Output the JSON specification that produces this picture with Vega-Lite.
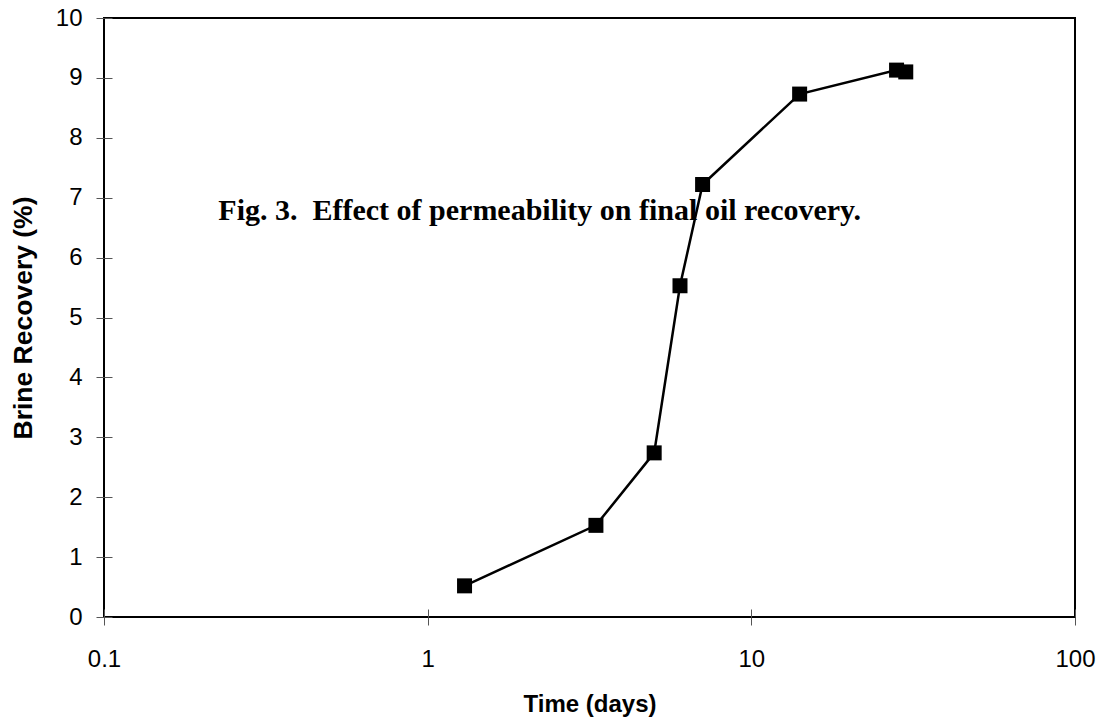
{
  "$schema": "https://vega.github.io/schema/vega-lite/v6.json",
  "autosize": {"type": "none"},
  "padding": {"left": 104, "top": 18, "right": 34, "bottom": 110},
  "width": 971,
  "height": 599,
  "background": "white",
  "config": {"view": {"stroke": "black", "strokeWidth": 2}, "axis": {"grid": false}},
  "datasets": {
    "recovery": [
      {"days": 1.30, "recovery": 0.52},
      {"days": 3.31, "recovery": 1.53},
      {"days": 5.01, "recovery": 2.74},
      {"days": 6.02, "recovery": 5.53},
      {"days": 7.07, "recovery": 7.22},
      {"days": 14.1, "recovery": 8.73},
      {"days": 28.1, "recovery": 9.13},
      {"days": 30.0, "recovery": 9.10}
    ],
    "note": [
      {"days": 0.2255, "recovery": 6.63, "label": "Fig. 3.\u00a0 Effect of permeability on final oil recovery."}
    ]
  },
  "layer": [
    {
      "data": {"name": "note"},
      "mark": {"type": "text", "font": "Liberation Serif", "fontWeight": "bold", "fontSize": 30, "align": "left", "baseline": "alphabetic", "color": "black"},
      "encoding": {
        "x": {"field": "days", "type": "quantitative", "scale": {"type": "log", "domain": [0.1, 100]},
          "axis": {"orient": "bottom", "values": [0.1, 1, 10, 100], "labels": false, "domain": false, "title": null, "tickSize": -8, "tickColor": "#555", "tickWidth": 1, "grid": false}},
        "y": {"field": "recovery", "type": "quantitative", "scale": {"domain": [0, 10]},
          "axis": {"orient": "left", "values": [0,1,2,3,4,5,6,7,8,9,10], "labels": false, "domain": false, "title": null, "tickSize": -8, "tickColor": "#555", "tickWidth": 1, "grid": false}},
        "text": {"field": "label"}
      }
    },
    {
      "data": {"name": "recovery"},
      "mark": {"type": "line", "color": "black", "strokeWidth": 2.5,
        "point": {"shape": "square", "size": 225, "filled": true, "color": "black", "opacity": 1}},
      "encoding": {
        "x": {"field": "days", "type": "quantitative", "scale": {"type": "log", "domain": [0.1, 100]},
          "axis": {"orient": "bottom", "values": [0.1, 1, 10, 100], "format": "~g", "labelFont": "Liberation Sans", "labelFontSize": 24, "labelColor": "black", "labelPadding": 22, "labelFlush": false, "labelOverlap": false, "tickSize": 8, "tickColor": "#555", "tickWidth": 1, "domain": false, "grid": false,
            "title": "Time (days)", "titleFont": "Liberation Sans", "titleFontSize": 24, "titleFontWeight": "bold", "titleColor": "black", "titlePadding": 21}},
        "y": {"field": "recovery", "type": "quantitative", "scale": {"domain": [0, 10]},
          "axis": {"orient": "left", "values": [0,1,2,3,4,5,6,7,8,9,10], "format": "d", "labelFont": "Liberation Sans", "labelFontSize": 24, "labelColor": "black", "labelPadding": 14, "labelFlush": false, "labelOverlap": false, "tickSize": 8, "tickColor": "#555", "tickWidth": 1, "domain": false, "grid": false,
            "title": "Brine Recovery (%)", "titleFont": "Liberation Sans", "titleFontSize": 26.5, "titleFontWeight": "bold", "titleColor": "black", "titlePadding": 18}}
      }
    }
  ],
  "resolve": {"axis": {"x": "independent", "y": "independent"}}
}
